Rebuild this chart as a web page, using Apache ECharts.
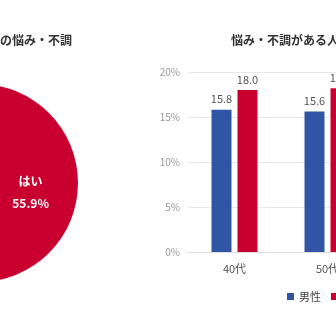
<!DOCTYPE html>
<html><head><meta charset="utf-8">
<script src="https://cdn.jsdelivr.net/npm/echarts@6/dist/echarts.min.js"></script>
<style>html,body{margin:0;padding:0;background:#fff}#c{width:336px;height:336px}</style>
</head><body><div id="c"></div>
<script>
const leftTitle = 'の悩み・不調';
const rightTitle = '悩み・不調がある人';
const pieNames = ['はい', 'いいえ'];
const pieValues = [55.9, 44.1];
const categories = ['40代', '50代'];
const maleValues = [15.8, 15.6];
const femaleValues = [18.0, 18.2];
const seriesNames = ['男性', '女性'];
const yTicks = [0, 5, 10, 15, 20];

const RED = '#C9002F', BLUE = '#2F55A4';
const FONT = '"Noto Sans CJK JP", "Noto Sans", sans-serif';
const chart = echarts.init(document.getElementById('c'), null, {renderer: 'canvas'});
chart.setOption({
  animation: false,
  textStyle: {fontFamily: FONT},
  graphic: [
    {type: 'text', right: 336 - 72, top: 34, style: {text: leftTitle, font: 'bold 12px ' + FONT, fill: '#333', textAlign: 'right'}},
    {type: 'text', left: 231, top: 34, style: {text: rightTitle, font: 'bold 12px ' + FONT, fill: '#333'}}
  ],
  legend: {
    left: 282, top: 286, width: 200, orient: 'horizontal', itemWidth: 7, itemHeight: 7, itemGap: 10, icon: 'rect',
    textStyle: {fontSize: 11, color: '#444', fontFamily: FONT},
    data: seriesNames
  },
  grid: {left: 188, top: 72, width: 186, height: 180, outerBoundsMode: 'none', containLabel: false},
  xAxis: {
    type: 'category', data: categories,
    axisLine: {lineStyle: {color: '#ddd'}}, axisTick: {show: false},
    axisLabel: {color: '#555', fontSize: 11, margin: 11, fontFamily: FONT}
  },
  yAxis: {
    type: 'value', min: yTicks[0], max: yTicks[yTicks.length - 1], interval: 5,
    axisLine: {show: false}, axisTick: {show: false},
    splitLine: {lineStyle: {color: '#e8e8e8'}},
    axisLabel: {color: '#999', fontSize: 10, margin: 8, formatter: '{value}%', fontFamily: FONT}
  },
  series: [
    {type: 'pie', center: [-21, 183], radius: 99, startAngle: 90, clockwise: true,
     silent: true, legendHoverLink: false,
     label: {position: 'inside', formatter: (p) => p.name + '\n' + p.value.toFixed(1) + '%',
             color: '#fff', fontSize: 12, fontWeight: 'bold', lineHeight: 22, fontFamily: FONT},
     labelLine: {show: false},
     data: pieNames.map((n, i) => ({name: n, value: pieValues[i], itemStyle: {color: i === 0 ? RED : '#9a9a9a'}}))},
    {name: seriesNames[0], type: 'bar', data: maleValues, barWidth: 20, barGap: '30%',
     itemStyle: {color: BLUE},
     label: {show: true, position: 'top', distance: 5, color: '#555', fontSize: 11, formatter: (p) => p.value.toFixed(1), fontFamily: FONT}},
    {name: seriesNames[1], type: 'bar', data: femaleValues, barWidth: 20, barGap: '30%',
     itemStyle: {color: RED},
     label: {show: true, position: 'top', distance: 5, color: '#555', fontSize: 11, formatter: (p) => p.value.toFixed(1), fontFamily: FONT}}
  ]
});
</script></body></html>
